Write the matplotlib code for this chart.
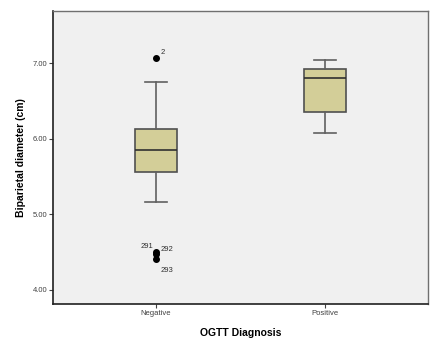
import matplotlib.pyplot as plt

plt.rcParams['font.family'] = ['Liberation Sans', 'DejaVu Sans']

groups = ['Negative', 'Positive']
q1 = [5.56, 6.35]
medians = [5.85, 6.80]
q3 = [6.13, 6.92]
whisker_low = [5.16, 6.08]
whisker_high = [6.75, 7.04]
outlier_vals = [7.07, 4.50, 4.47, 4.40]
outlier_ids = ['2', '291', '292', '293']

stats = []
for i, g in enumerate(groups):
    stats.append({'label': g, 'q1': q1[i], 'med': medians[i], 'q3': q3[i],
                  'whislo': whisker_low[i], 'whishi': whisker_high[i], 'fliers': []})

fig = plt.figure(figsize=(4.39, 3.52), dpi=100)
ax = fig.add_axes([53 / 439, 1 - 304 / 352, 375 / 439, 293 / 352])
ax.set_facecolor('#f0f0f0')

ax.bxp(stats, positions=[1, 2], widths=0.254, patch_artist=True, showfliers=False,
       boxprops=dict(facecolor='#d3ce98', edgecolor='#505050', linewidth=1.2),
       medianprops=dict(color='#303030', linewidth=1.2),
       whiskerprops=dict(color='#606060', linewidth=1.2),
       capprops=dict(color='#606060', linewidth=1.2),
       capwidths=0.13)

# outliers all belong to the Negative group
ax.scatter([1] * len(outlier_vals), outlier_vals, s=16, color='black', zorder=3)
label_offsets = {'2': (3, 3), '291': (-11, 3), '292': (3, 2), '293': (3, -9)}
for val, lab in zip(outlier_vals, outlier_ids):
    ax.annotate(lab, (1, val), xytext=label_offsets[lab], textcoords='offset points',
                fontsize=5.5, color='#303030')

ax.set_xlim(0.39, 2.61)
ax.set_ylim(3.81, 7.69)
ax.set_yticks([4, 5, 6, 7])
ax.set_yticklabels(['4.00', '5.00', '6.00', '7.00'])
ax.set_xticks([1, 2])
ax.set_xticklabels(groups)
ax.tick_params(labelsize=5.5, length=3, width=0.8, colors='#404040', pad=1)

for side in ['left', 'bottom']:
    ax.spines[side].set_color('#202020')
    ax.spines[side].set_linewidth(1.2)
for side in ['top', 'right']:
    ax.spines[side].set_color('#707070')
    ax.spines[side].set_linewidth(1.0)

ax.set_xlabel('OGTT Diagnosis', fontsize=7.5, fontweight='bold', labelpad=8)
ax.set_ylabel('Biparietal diameter (cm)', fontsize=7.5, fontweight='bold', labelpad=5)

fig.savefig('out.png', dpi=100)
